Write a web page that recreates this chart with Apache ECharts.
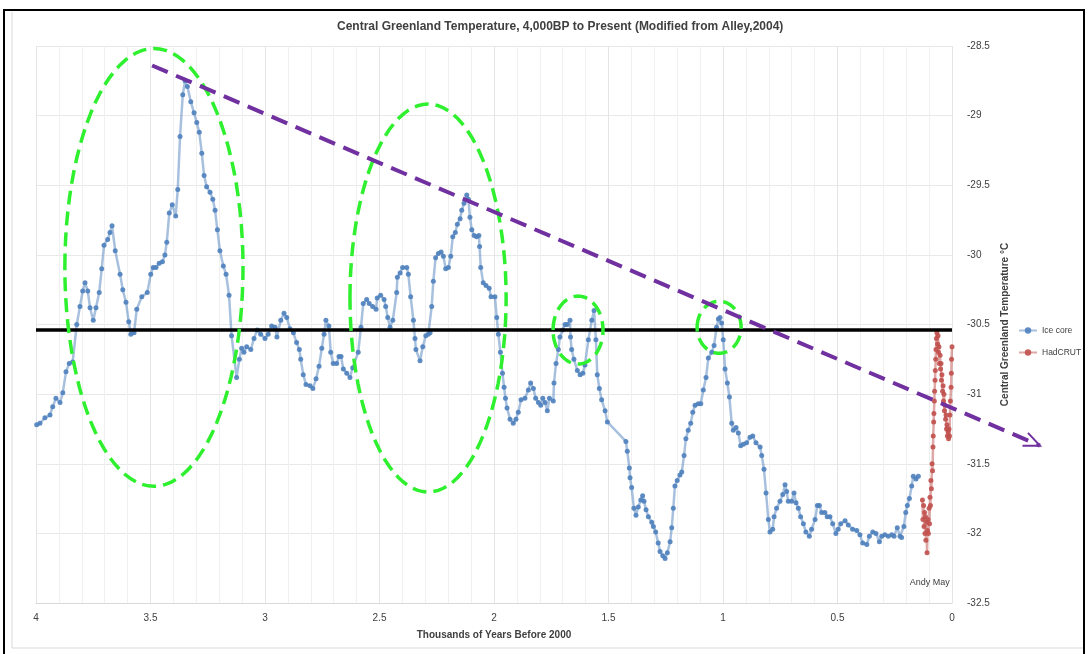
<!DOCTYPE html>
<html>
<head>
<meta charset="utf-8">
<script src="https://cdn.jsdelivr.net/npm/echarts@6/dist/echarts.min.js"></script>
<style>html,body{margin:0;padding:0;background:#fff}#main{width:1088px;height:654px}</style>
</head>
<body>
<div id="main"></div>
<script>
// ice core, thousands of years before 2000 and deg C
var iceAge = [3.997,3.983,3.961,3.939,3.927,3.913,3.895,3.883,3.869,3.855,3.840,3.822,3.808,3.796,3.786,3.774,3.764,3.750,3.738,3.724,
  3.713,3.703,3.687,3.677,3.668,3.654,3.633,3.621,3.607,3.595,3.586,3.572,3.560,3.538,3.514,3.499,3.488,3.476,3.462,3.448,
  3.437,3.429,3.418,3.405,3.390,3.381,3.371,3.359,3.349,3.339,3.324,3.310,3.298,3.287,3.276,3.266,3.255,3.240,3.228,3.218,
  3.208,3.197,3.182,3.170,3.157,3.146,3.124,3.112,3.102,3.092,3.080,3.062,3.048,3.034,3.019,3.000,2.986,2.971,2.956,2.948,
  2.931,2.917,2.905,2.891,2.876,2.862,2.850,2.844,2.833,2.821,2.803,2.791,2.777,2.764,2.752,2.742,2.734,2.721,2.713,2.702,
  2.687,2.677,2.668,2.658,2.643,2.629,2.617,2.593,2.581,2.571,2.556,2.545,2.530,2.515,2.510,2.495,2.480,2.473,2.464,2.454,
  2.442,2.425,2.422,2.410,2.399,2.381,2.374,2.364,2.352,2.345,2.341,2.323,2.311,2.298,2.287,2.279,2.272,2.265,2.255,2.243,
  2.231,2.221,2.211,2.199,2.189,2.180,2.169,2.160,2.148,2.141,2.131,2.119,2.112,2.105,2.097,2.087,2.076,2.066,2.063,2.058,
  2.047,2.035,2.021,2.013,1.996,1.988,1.981,1.972,1.963,1.956,1.950,1.943,1.930,1.916,1.904,1.894,1.882,1.865,1.850,1.840,
  1.828,1.818,1.806,1.796,1.787,1.777,1.767,1.758,1.741,1.738,1.729,1.719,1.712,1.700,1.690,1.680,1.668,1.666,1.661,1.651,
  1.636,1.624,1.612,1.603,1.588,1.573,1.563,1.555,1.549,1.540,1.530,1.515,1.505,1.424,1.418,1.409,1.406,1.399,1.389,1.380,
  1.370,1.359,1.351,1.345,1.336,1.326,1.311,1.304,1.294,1.283,1.275,1.263,1.253,1.243,1.231,1.224,1.217,1.210,1.200,1.188,
  1.180,1.170,1.162,1.152,1.141,1.132,1.122,1.108,1.097,1.086,1.074,1.064,1.049,1.039,1.028,1.020,1.013,1.006,0.999,0.991,
  0.981,0.972,0.962,0.955,0.943,0.933,0.923,0.911,0.897,0.882,0.870,0.856,0.838,0.831,0.821,0.812,0.802,0.795,0.783,0.777,
  0.766,0.751,0.739,0.729,0.722,0.715,0.700,0.690,0.681,0.671,0.661,0.649,0.638,0.623,0.613,0.598,0.588,0.579,0.569,0.555,
  0.545,0.533,0.521,0.507,0.497,0.486,0.467,0.453,0.434,0.416,0.402,0.390,0.372,0.361,0.346,0.332,0.317,0.307,0.293,0.278,
  0.263,0.253,0.239,0.227,0.220,0.210,0.202,0.195,0.186,0.176,0.169,0.157,0.147];
var iceTemp = [-31.22,-31.21,-31.17,-31.15,-31.09,-31.03,-31.06,-30.99,-30.84,-30.78,-30.77,-30.50,-30.37,-30.26,-30.20,-30.26,-30.38,-30.47,-30.38,-30.27,
  -30.10,-29.93,-29.89,-29.84,-29.79,-29.97,-30.14,-30.25,-30.34,-30.48,-30.57,-30.56,-30.39,-30.30,-30.27,-30.14,-30.09,-30.09,-30.06,-30.05,
  -30.00,-29.91,-29.70,-29.64,-29.72,-29.53,-29.15,-28.85,-28.75,-28.79,-28.90,-28.98,-29.05,-29.12,-29.27,-29.43,-29.51,-29.55,-29.60,-29.68,
  -29.82,-29.97,-30.08,-30.14,-30.29,-30.58,-30.88,-30.75,-30.67,-30.70,-30.66,-30.68,-30.60,-30.54,-30.57,-30.60,-30.57,-30.51,-30.52,-30.59,
  -30.47,-30.42,-30.45,-30.53,-30.56,-30.63,-30.68,-30.75,-30.86,-30.93,-30.94,-30.96,-30.89,-30.80,-30.67,-30.57,-30.47,-30.51,-30.70,-30.78,
  -30.78,-30.73,-30.73,-30.82,-30.85,-30.88,-30.81,-30.70,-30.52,-30.35,-30.32,-30.35,-30.37,-30.39,-30.31,-30.29,-30.32,-30.37,-30.45,-30.52,
  -30.47,-30.27,-30.16,-30.13,-30.09,-30.09,-30.14,-30.30,-30.47,-30.60,-30.68,-30.76,-30.66,-30.58,-30.57,-30.56,-30.37,-30.19,-30.02,-29.99,
  -29.98,-30.01,-30.10,-30.09,-30.01,-29.87,-29.84,-29.78,-29.74,-29.68,-29.63,-29.57,-29.60,-29.73,-29.82,-29.86,-29.87,-29.86,-29.94,-30.09,
  -30.20,-30.22,-30.24,-30.30,-30.30,-30.45,-30.57,-30.70,-30.85,-30.95,-31.03,-31.10,-31.18,-31.21,-31.18,-31.13,-31.04,-31.03,-30.97,-30.92,
  -30.96,-31.03,-31.06,-31.08,-31.03,-31.06,-31.12,-31.03,-31.05,-30.92,-30.78,-30.68,-30.59,-30.54,-30.50,-30.50,-30.47,-30.59,-30.68,-30.75,
  -30.83,-30.86,-30.85,-30.79,-30.61,-30.47,-30.40,-30.61,-30.86,-30.96,-31.04,-31.12,-31.20,-31.34,-31.41,-31.53,-31.60,-31.67,-31.82,-31.87,
  -31.81,-31.76,-31.73,-31.77,-31.83,-31.88,-31.92,-31.95,-31.99,-32.07,-32.13,-32.16,-32.18,-32.14,-32.06,-31.96,-31.82,-31.66,-31.62,-31.58,
  -31.56,-31.44,-31.32,-31.26,-31.21,-31.13,-31.08,-31.07,-31.07,-30.97,-30.88,-30.74,-30.70,-30.65,-30.52,-30.46,-30.45,-30.49,-30.61,-30.82,
  -30.92,-31.02,-31.21,-31.26,-31.24,-31.28,-31.37,-31.36,-31.35,-31.31,-31.30,-31.35,-31.38,-31.44,-31.54,-31.71,-31.90,-31.99,-31.97,-31.88,
  -31.82,-31.77,-31.72,-31.65,-31.70,-31.77,-31.77,-31.71,-31.78,-31.82,-31.88,-31.93,-31.99,-32.02,-31.97,-31.90,-31.80,-31.80,-31.85,-31.85,
  -31.88,-31.88,-31.93,-32.00,-31.97,-31.93,-31.91,-31.94,-31.97,-31.98,-32.01,-32.07,-32.08,-32.02,-31.99,-32.00,-32.06,-32.02,-32.01,-32.02,
  -32.01,-32.02,-31.96,-32.02,-32.03,-31.95,-31.85,-31.80,-31.75,-31.66,-31.59,-31.61,-31.59];

// HadCRUT, rescaled as in the figure
var hadAge = [0.129,0.127,0.124,0.122,0.120,0.118,0.116,0.114,0.111,0.109,0.107,0.105,0.103,0.100,0.098,0.096,0.094,0.092,0.090,0.087,
  0.085,0.083,0.082,0.080,0.079,0.077,0.076,0.074,0.073,0.071,0.070,0.068,0.066,0.063,0.061,0.059,0.057,0.055,0.052,0.050,
  0.048,0.046,0.044,0.041,0.039,0.037,0.035,0.033,0.031,0.028,0.026,0.024,0.022,0.020,0.017,0.015,0.013,0.011,0.009,0.007,
  0.004,0.003,0.002,0.000];
var hadTemp = [-31.76,-31.90,-31.80,-31.95,-31.85,-32.00,-31.88,-32.05,-31.92,-32.14,-31.98,-31.90,-32.00,-31.82,-31.93,-31.74,-31.80,-31.62,-31.68,-31.50,
  -31.55,-31.38,-31.30,-31.20,-31.14,-31.05,-30.98,-30.90,-30.83,-30.75,-30.68,-30.60,-30.56,-30.64,-30.58,-30.70,-30.66,-30.78,-30.72,-30.82,
  -30.78,-30.90,-30.86,-30.98,-30.94,-31.05,-31.00,-31.12,-31.08,-31.18,-31.15,-31.25,-31.22,-31.30,-31.27,-31.32,-31.25,-31.30,-31.15,-31.05,
  -30.95,-30.85,-30.75,-30.66];

var refLevel = -30.54;              // black horizontal line
var trendAge = [3.493, -0.384];     // purple dashed arrow
var trendTemp = [-28.64, -31.37];
// green rings: centre age, centre temp, half width (kyr), half height (C)
var rings = [[3.485,-30.09,0.389,1.572],[2.288,-30.31,0.341,1.393],[1.633,-30.54,0.109,0.244],[1.017,-30.52,0.096,0.187]];

var font = "'Liberation Sans Narrow','Liberation Sans',sans-serif";

function zip(a, b) {
  var out = [];
  for (var i = 0; i < a.length; i++) out.push([a[i], b[i]]);
  return out;
}

var chart = echarts.init(document.getElementById('main'));
var option = {
  animation: false,
  backgroundColor: '#fff',
  title: {
    text: 'Central Greenland Temperature, 4,000BP to Present (Modified from Alley,2004)',
    left: 332, top: 16,
    textStyle: {fontFamily: font, fontSize: 12, fontWeight: 'bold', color: '#404040'}
  },
  grid: {left: 36, right: 136, top: 46, bottom: 51},
  legend: {
    data: ['Ice core', 'HadCRUT'],
    orient: 'vertical', left: 1013, top: 321, itemGap: 13,
    itemWidth: 18, itemHeight: 8,
    textStyle: {fontFamily: font, fontSize: 8.5, color: '#404040'}
  },
  xAxis: {
    type: 'value', inverse: true, min: 0, max: 4, interval: 0.5,
    name: 'Thousands of Years Before 2000', nameLocation: 'middle', nameGap: 27,
    nameTextStyle: {fontFamily: font, fontSize: 10, fontWeight: 'bold', color: '#404040'},
    axisLine: {show: true, lineStyle: {color: '#d9d9d9'}},
    axisTick: {show: false},
    axisLabel: {fontFamily: font, fontSize: 10, color: '#404040', margin: 10},
    splitLine: {show: true, lineStyle: {color: '#e4e4e4'}},
    minorTick: {show: false, splitNumber: 5},
    minorSplitLine: {show: true, lineStyle: {color: '#f0f0f0'}}
  },
  yAxis: {
    type: 'value', position: 'right', min: -32.5, max: -28.5, interval: 0.5,
    name: 'Central Greenland Temperature °C', nameLocation: 'middle', nameGap: 42, nameRotate: 90,
    nameTextStyle: {fontFamily: font, fontSize: 10, fontWeight: 'bold', color: '#404040'},
    axisLine: {show: false},
    axisTick: {show: false},
    axisLabel: {fontFamily: font, fontSize: 10, color: '#404040', margin: 15},
    splitLine: {show: true, lineStyle: {color: '#e8e8e8'}}
  },
  series: [
    {
      name: 'Ice core', type: 'line', data: zip(iceAge, iceTemp),
      symbol: 'circle', symbolSize: 5, showAllSymbol: true, z: 2,
      lineStyle: {color: '#4f81bd', width: 2.5, opacity: 0.5},
      itemStyle: {color: '#4f81bd', opacity: 0.9}
    },
    {
      name: 'HadCRUT', type: 'line', data: zip(hadAge, hadTemp),
      symbol: 'circle', symbolSize: 5, showAllSymbol: true, z: 2,
      lineStyle: {color: '#c0504d', width: 2.5, opacity: 0.5},
      itemStyle: {color: '#c0504d', opacity: 0.9}
    },
    {
      name: 'level', type: 'line', data: [[4, refLevel], [0, refLevel]],
      symbol: 'none', silent: true, z: 4,
      lineStyle: {color: '#000', width: 3.5}
    }
  ]
};
chart.setOption(option);

function px(a, t) { return chart.convertToPixel({gridIndex: 0}, [a, t]); }

var g = [];
// outer frame
g.push({type: 'rect', shape: {x: 4, y: 10, width: 1080, height: 660}, style: {fill: 'none', stroke: '#000', lineWidth: 2}, z: 10});
g.push({type: 'polyline', shape: {points: [[12, 12], [12, 648], [1083, 648]]}, style: {fill: 'none', stroke: '#d9d9d9', lineWidth: 1}, z: 10});

rings.forEach(function (r) {
  var pts = [];
  for (var k = 0; k < 96; k++) {
    var a = k / 96 * Math.PI * 2;
    pts.push(px(r[0] + r[2] * Math.cos(a), r[1] + r[3] * Math.sin(a)));
  }
  g.push({type: 'polygon', shape: {points: pts}, z: 20,
    style: {fill: 'none', stroke: '#2ef02e', lineWidth: 3.5, lineDash: [14, 7]}});
});

var p0 = px(trendAge[0], trendTemp[0]);
var p1 = px(trendAge[1], trendTemp[1]);
g.push({type: 'line', shape: {x1: p0[0], y1: p0[1], x2: p1[0], y2: p1[1]}, z: 21,
  style: {stroke: '#7030a0', lineWidth: 4, lineDash: [17, 9]}});
var dx = p1[0] - p0[0], dy = p1[1] - p0[1], len = Math.sqrt(dx * dx + dy * dy);
dx /= len; dy /= len;
g.push({type: 'polyline', z: 21,
  shape: {points: [[p1[0] - 16 * dx - 7 * dy, p1[1] - 16 * dy + 7 * dx], [p1[0], p1[1]], [p1[0] - 16 * dx + 7 * dy, p1[1] - 16 * dy - 7 * dx]]},
  style: {fill: 'none', stroke: '#7030a0', lineWidth: 2}});

var sig = px(0.01, -32.35);
g.push({type: 'text', x: sig[0], y: sig[1], z: 22,
  style: {text: 'Andy May', fontFamily: font, fontSize: 9, fill: '#404040', align: 'right', verticalAlign: 'middle'}});

chart.setOption({graphic: g});
</script>
</body>
</html>
